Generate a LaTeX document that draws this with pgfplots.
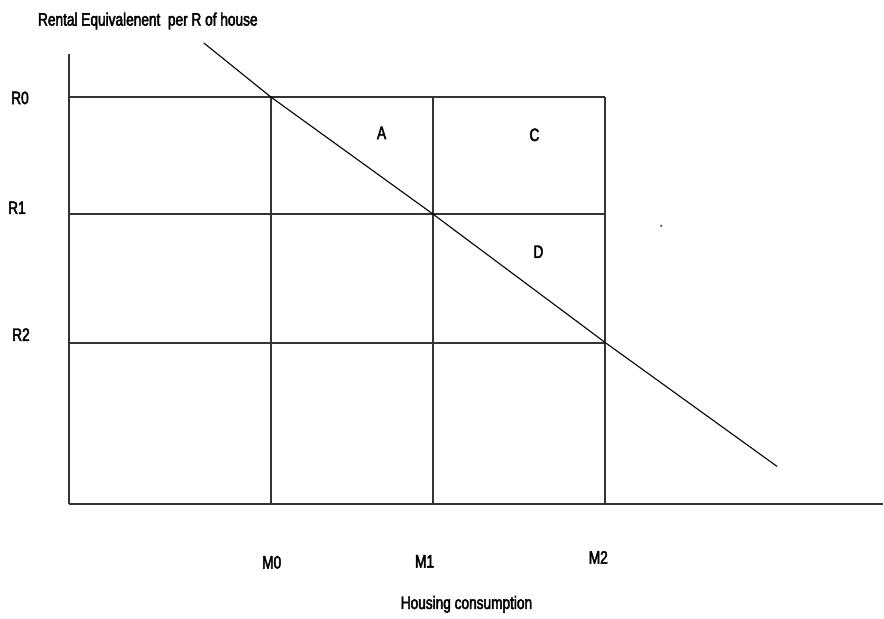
\documentclass[border=0pt]{standalone}
\usepackage{fontspec}
\setmainfont{Liberation Sans}[FakeStretch=0.76, FakeBold=2.5]
\usepackage{pgfplots}
\pgfplotsset{compat=1.18}

\begin{document}
\begin{tikzpicture}
\fontsize{18bp}{21bp}\selectfont
\begin{axis}[
    scale only axis,
    width=815bp, height=451bp,
    xmin=0, xmax=815, ymin=0, ymax=451,
    axis lines=left,
    axis line style={-, line width=2bp, black!80},
    ticks=none,
    clip=false,
]
% full page extent
\path (axis cs:-69,-109) rectangle (axis cs:815,505);

% horizontal levels R0, R1, R2
\addplot[line width=2bp, black!80] coordinates {(0,408) (537,408)};
\addplot[line width=2bp, black!80] coordinates {(0,291) (537,291)};
\addplot[line width=2bp, black!80] coordinates {(0,162) (537,162)};
% vertical levels M0, M1, M2
\addplot[line width=2bp, black!80] coordinates {(202,0) (202,408)};
\addplot[line width=2bp, black!80] coordinates {(364,0) (364,408)};
\addplot[line width=2bp, black!80] coordinates {(537,0) (537,408)};

% demand line
\addplot[line width=1.1bp, black] coordinates {(135,462) (202,408) (364,291) (537,162) (709,38)};
% stray dot
\addplot[only marks, mark=*, mark size=0.9bp, black!70] coordinates {(593,279)};

% labels
\node at (axis cs:79,484) {Rental Equivalenent\ \ per R of house};
\node at (axis cs:-49,407) {R0};
\node at (axis cs:-52,297) {R1};
\node at (axis cs:-48,170) {R2};
\node at (axis cs:203,-58) {M0};
\node at (axis cs:356,-57) {M1};
\node at (axis cs:530,-53) {M2};
\node at (axis cs:398,-100) {Housing consumption};
\node at (axis cs:313,372) {A};
\node at (axis cs:466,370) {C};
\node at (axis cs:470,253) {D};
\end{axis}
\end{tikzpicture}
\end{document}
